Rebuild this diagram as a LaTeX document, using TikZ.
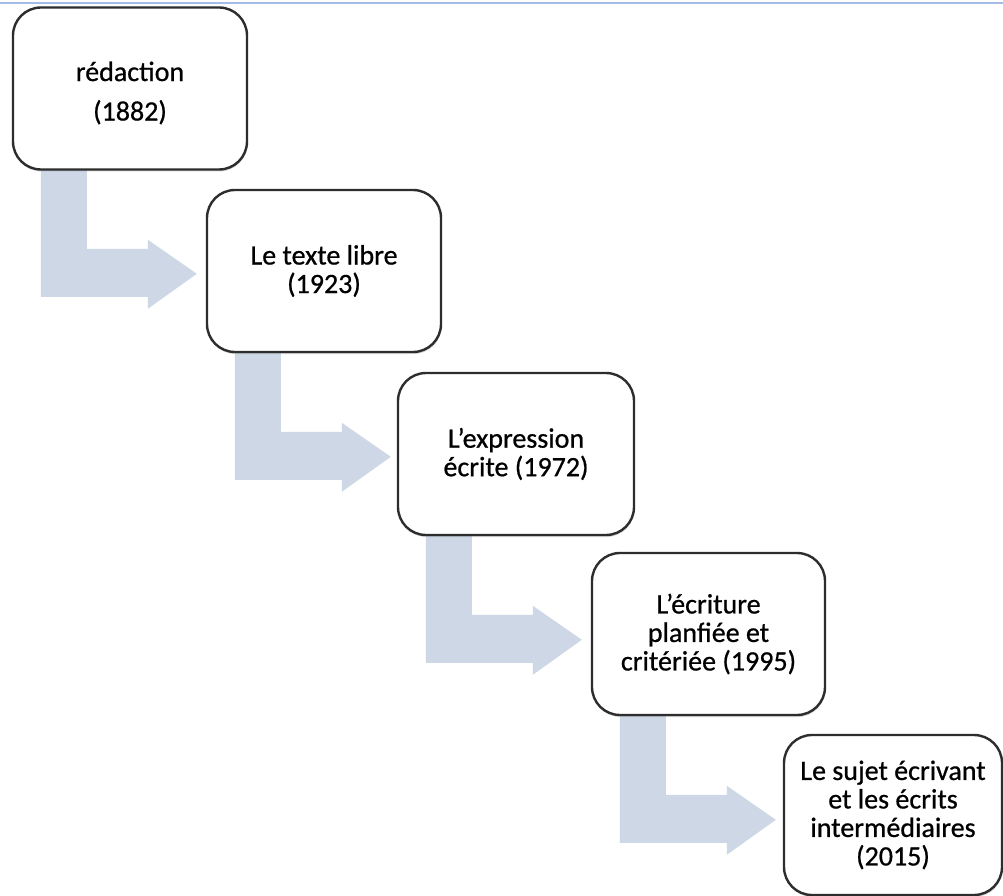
\documentclass[tikz,border=0pt]{standalone}
\usepackage{fontspec}
\setmainfont{Carlito}[RawFeature={embolden=0.7}]
\usetikzlibrary{calc,shadows}
\definecolor{arrowblue}{RGB}{205,215,230}
\definecolor{topline}{RGB}{165,188,230}
\definecolor{boxline}{RGB}{45,45,45}
\tikzset{
  stage/.style={draw=boxline, line width=2.4pt, fill=white, rounded corners=28pt,
    minimum width=234pt, minimum height=162pt, align=center, inner sep=0pt,
    font=\fontsize{28}{28.5}\selectfont,
    drop shadow={opacity=0.3, shadow xshift=0.6pt, shadow yshift=-2pt}},
  bend arrow/.style={fill=arrowblue, draw=none}
}
\newcommand{\larrow}[1]{%
  \fill[bend arrow] ($(#1.north west)+(28,150)$) -- ($(#1.north west)+(28,290)$)
    -- ($(#1.north west)+(135,290)$) -- ($(#1.north west)+(135,302)$)
    -- ($(#1.north west)+(184,267)$) -- ($(#1.north west)+(135,233)$)
    -- ($(#1.north west)+(135,242)$) -- ($(#1.north west)+(74,242)$)
    -- ($(#1.north west)+(74,150)$) -- cycle;}
\begin{document}
\begin{tikzpicture}[x=1pt,y=-1pt]
\useasboundingbox (0,0) rectangle (1003,896);
\fill[white] (0,0) rectangle (1003,896);
\draw[topline, line width=2pt] (0,3.5) -- (1003,3.5);
% invisible placement nodes for the arrows
\path (130,88.5) node[minimum width=234pt, minimum height=163pt, inner sep=0pt] (p1) {};
\path (324,271) node[minimum width=234pt, minimum height=162pt, inner sep=0pt] (p2) {};
\path (516,454) node[minimum width=236pt, minimum height=162pt, inner sep=0pt] (p3) {};
\path (708.5,634) node[minimum width=233pt, minimum height=162pt, inner sep=0pt] (p4) {};
\larrow{p1}
\larrow{p2}
\larrow{p3}
\larrow{p4}
\node[stage] (b1) at (130,88.5) {};
\node[font=\fontsize{28}{28.5}\selectfont, align=center, inner sep=0pt] (t1) at (130,93) {rédaction\\[11pt](1882)};
\node[stage] (b2) at (324,271) {Le texte libre\\(1923)};
\node[stage, minimum width=236pt] (b3) at (516,454) {L’expression\\écrite (1972)};
\node[stage, minimum width=233pt] (b4) at (708.5,634) {L’écriture\\planfiée et\\critériée (1995)};
\node[stage, minimum width=218pt, minimum height=160pt] (b5) at (893,815) {Le sujet écrivant\\et les écrits\\intermédiaires\\(2015)};
\end{tikzpicture}
\end{document}
